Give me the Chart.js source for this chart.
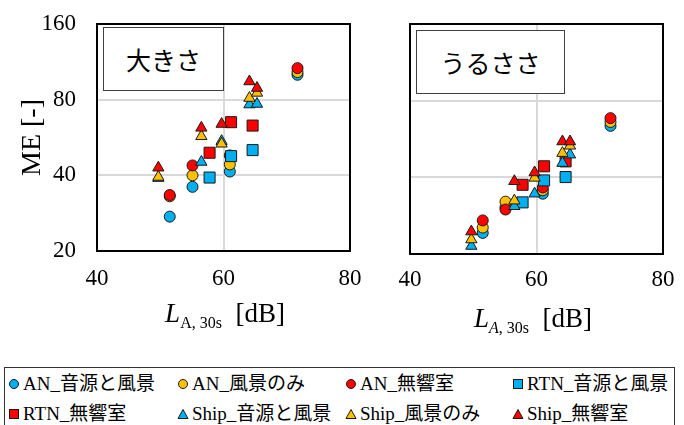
<!DOCTYPE html>
<html><head><meta charset="utf-8">
<script src="https://cdn.jsdelivr.net/npm/chart.js@4.4.1/dist/chart.umd.min.js"></script>
<style>
body{margin:0;width:684px;height:425px;background:#fff;position:relative;overflow:hidden;}
canvas{position:absolute;}
.pl{position:absolute;border:1px solid #404040;background:#fff;font:25px 'Noto Sans CJK JP',sans-serif;color:#000;display:flex;align-items:center;justify-content:center;box-sizing:border-box;}
.xt{position:absolute;font:27px 'Liberation Serif',serif;line-height:27px;white-space:nowrap;transform:translateX(-50%);color:#000;}
.xt sub{font-size:16px;vertical-align:-6px;line-height:0;}
#legend{position:absolute;left:4px;top:367px;width:671px;height:80px;border:1px solid #333;box-sizing:border-box;}
.li{position:absolute;font:19px 'Liberation Serif','Noto Sans CJK JP',serif;white-space:nowrap;color:#000;line-height:20px;}
.li svg{position:absolute;}
</style>
</head><body>
<canvas id="c1" width="365" height="300" style="left:0;top:0"></canvas>
<canvas id="c2" width="304" height="300" style="left:380px;top:0"></canvas>
<div class="pl" style="left:103px;top:27px;width:121px;height:64px">大きさ</div>
<div class="pl" style="left:416px;top:30px;width:149px;height:64px">うるささ</div>
<div class="xt" style="left:225px;top:300px"><i>L</i><sub>A, 30s</sub>&nbsp; [dB]</div>
<div class="xt" style="left:533px;top:305px"><i>L</i><sub><i>A</i>, 30s</sub>&nbsp; [dB]</div>
<div id="legend"></div>
<script>
// ---- data ----
const panelTitles = ['大きさ', 'うるささ'];
const xTicks = [40, 60, 80];
const yTicks = [20, 40, 80, 160];
// L_A,30s of stimuli per source
const xAN = [51.5, 55.1, 61.0, 71.7];
const xRTN = [57.8, 61.2, 64.6];
const xShip = [49.7, 56.5, 59.7, 64.1, 65.3];

const seriesLabels = ['AN_音源と風景', 'AN_風景のみ', 'AN_無響室', 'RTN_音源と風景', 'RTN_無響室', 'Ship_音源と風景', 'Ship_風景のみ', 'Ship_無響室'];
const seriesSource = ['AN', 'AN', 'AN', 'RTN', 'RTN', 'Ship', 'Ship', 'Ship'];

// 大きさ (ME)
const L_AN_scene = [27.4, 36.0, 41.4, 100.5];
const L_AN_view = [33.0, 40.0, 44.2, 103.0];
const L_AN_anech = [33.4, 43.8, 48.0, 106.8];
const L_RTN_scene = [39.2, 47.7, 50.4];
const L_RTN_anech = [49.2, 65.1, 63.1];
const L_Ship_scene = [39.0, 45.2, 54.7, 76.5, 76.9];
const L_Ship_view = [39.4, 57.2, 53.4, 81.2, 85.1];
const L_Ship_anech = [42.9, 61.8, 64.0, 94.5, 89.0];

// うるささ (ME)
const A_AN_scene = [24.2, 30.5, 34.5, 63.7];
const A_AN_view = [25.4, 32.1, 35.6, 66.0];
const A_AN_anech = [27.1, 29.9, 36.5, 68.3];
const A_RTN_scene = [31.9, 38.9, 40.1];
const A_RTN_anech = [37.4, 44.2, 46.2];
const A_Ship_scene = [21.5, 30.8, 34.5, 45.5, 49.1];
const A_Ship_view = [22.8, 32.4, 39.8, 49.8, 53.2];
const A_Ship_anech = [24.5, 38.6, 41.8, 55.3, 55.3];

// ---- styles ----
const seriesColors = ['#00B0F0', '#FFC000', '#FF0000', '#00B0F0', '#FF0000', '#00B0F0', '#FFC000', '#FF0000'];
const seriesShapes = ['circle', 'circle', 'circle', 'rect', 'rect', 'triangle', 'triangle', 'triangle'];
const shapeRadius = {circle: 5.5, rect: 7.8, triangle: 6.5};
const xBySource = {AN: xAN, RTN: xRTN, Ship: xShip};

const loudSeries = [L_AN_scene, L_AN_view, L_AN_anech, L_RTN_scene, L_RTN_anech, L_Ship_scene, L_Ship_view, L_Ship_anech];
const annSeries = [A_AN_scene, A_AN_view, A_AN_anech, A_RTN_scene, A_RTN_anech, A_Ship_scene, A_Ship_view, A_Ship_anech];

const SERIF = "'Liberation Serif', 'Times New Roman', serif";

const framePlugin = {
  id: 'frame',
  afterDraw(chart) {
    const {ctx, chartArea: a} = chart;
    ctx.save();
    ctx.strokeStyle = '#000';
    ctx.lineWidth = 2;
    ctx.strokeRect(a.left, a.top, a.right - a.left, a.bottom - a.top);
    ctx.restore();
  }
};

function makePanel(id, ySeries, cfg) {
  const datasets = ySeries.map((ys, i) => ({
    label: seriesLabels[i],
    data: xBySource[seriesSource[i]].map((x, j) => ({x: x, y: ys[j]})),
    pointStyle: seriesShapes[i],
    pointRadius: shapeRadius[seriesShapes[i]],
    pointHoverRadius: shapeRadius[seriesShapes[i]],
    backgroundColor: seriesColors[i],
    borderColor: '#1a1a1a',
    borderWidth: 1,
    showLine: false,
    order: -i
  }));
  return new Chart(document.getElementById(id), {
    type: 'scatter',
    data: {datasets},
    options: {
      responsive: false,
      animation: false,
      devicePixelRatio: 1,
      events: [],
      layout: {padding: {left: 0, right: cfg.padRight, top: 24, bottom: 0}},
      plugins: {legend: {display: false}, tooltip: {enabled: false}},
      scales: {
        x: {
          type: 'linear', min: 40, max: 80,
          afterBuildTicks: s => { s.ticks = xTicks.map(v => ({value: v})); },
          ticks: {font: {family: SERIF, size: 23}, color: '#000', padding: cfg.xPad, maxRotation: 0},
          grid: {color: '#d9d9d9', lineWidth: 2, drawTicks: false},
          border: {display: false},
          afterFit: s => { s.height = cfg.xHeight; s.paddingLeft = 0; s.paddingRight = 0; }
        },
        y: {
          type: 'logarithmic', min: 20, max: 160,
          afterBuildTicks: s => { s.ticks = yTicks.map(v => ({value: v})); },
          ticks: {display: cfg.showY, font: {family: SERIF, size: 23}, color: '#000', padding: 21, callback: v => String(v)},
          grid: {color: '#d9d9d9', lineWidth: 2, drawTicks: false},
          border: {display: false},
          title: {display: cfg.showY, text: 'ME [-]', color: '#000', font: {family: SERIF, size: 28}, padding: {top: 16, bottom: 0}},
          afterFit: s => { s.width = cfg.yWidth; s.paddingTop = 0; s.paddingBottom = 0; }
        }
      }
    },
    plugins: [framePlugin]
  });
}

makePanel('c1', loudSeries, {padRight: 15, xPad: 14, xHeight: 49, showY: true, yWidth: 97});
makePanel('c2', annSeries, {padRight: 21, xPad: 12, xHeight: 46, showY: false, yWidth: 30});

// ---- legend (HTML, built from series arrays) ----
const legCols = [13, 182, 350, 517];
const legRows = [383, 413];
function markerSvg(shape, color) {
  let inner;
  if (shape === 'circle') inner = `<circle cx="6" cy="6" r="4.5" fill="${color}" stroke="#1a1a1a" stroke-width="1"/>`;
  else if (shape === 'rect') inner = `<rect x="1.5" y="1.5" width="9" height="9" fill="${color}" stroke="#1a1a1a" stroke-width="1"/>`;
  else inner = `<polygon points="6,1.5 11,10.5 1,10.5" fill="${color}" stroke="#1a1a1a" stroke-width="1"/>`;
  return `<svg width="12" height="12" style="left:-6px;top:4px">${inner}</svg>`;
}
const legend = document.getElementById('legend');
seriesLabels.forEach((lab, i) => {
  const cx = legCols[i % 4], cy = legRows[Math.floor(i / 4)];
  const d = document.createElement('div');
  d.className = 'li';
  d.style.left = (cx - 4) + 'px';
  d.style.top = (cy - 367 - 10) + 'px';
  d.innerHTML = markerSvg(seriesShapes[i], seriesColors[i]) + `<span style="position:absolute;left:9px;top:0">${lab}</span>`;
  legend.appendChild(d);
});
</script>
</body></html>
